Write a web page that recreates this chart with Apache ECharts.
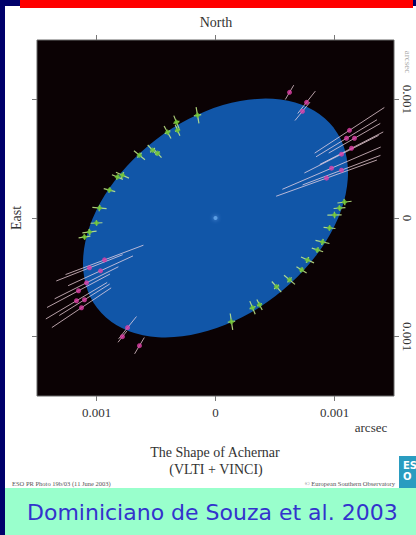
<!DOCTYPE html>
<html>
<head>
<meta charset="utf-8">
<script src="https://cdn.jsdelivr.net/npm/echarts@6/dist/echarts.min.js"></script>
<style>
html,body{margin:0;padding:0;background:#00006b;}
#c{width:416px;height:535px;}
</style>
</head>
<body>
<div id="c"></div>
<script>
// ---- data (milli-arcsec, picture orientation: East to the left, North up) ----
const tickValues = [-1, 0, 1];
const tickLabels = ['0.001', '0', '0.001'];
const ellipseAxes = [1.25, 0.83];      // semi-major, semi-minor (mas)
const ellipseAngle = 37.3;             // degrees, major axis from horizontal
const greenX = [-0.151,-0.328,-0.403,-0.319,-0.529,-0.487,-0.639,-0.782,-0.824,-0.891,-0.975,-1.000,-1.059,-1.101,
                 1.084, 1.042, 1.000, 0.958, 0.899, 0.857, 0.773, 0.723, 0.622, 0.513, 0.370, 0.311, 0.134];
const greenY = [ 0.866, 0.807, 0.723, 0.739, 0.571, 0.546, 0.529, 0.361, 0.345, 0.235, 0.084,-0.042,-0.118,-0.160,
                 0.134, 0.084, 0.025,-0.084,-0.202,-0.269,-0.353,-0.437,-0.521,-0.580,-0.731,-0.756,-0.874];
const greenErr = [0.07,0.06,0.06,0.05,0.06,0.05,0.06,0.06,0.05,0.05,0.06,0.05,0.06,0.05,
                  0.06,0.05,0.06,0.05,0.06,0.05,0.06,0.05,0.06,0.06,0.05,0.06,0.07];
const magX = [0.622, 0.765, 0.731, 1.126, 1.101, 1.168, 1.143, 1.059, 0.975, 1.059, 0.933,
              -0.933,-1.059,-0.966,-1.084,-1.151,-1.168,-1.101,-1.126, -0.739,-0.782,-0.639];
const magY = [1.059, 0.975, 0.899, 0.739, 0.672, 0.672, 0.588, 0.538, 0.420, 0.403, 0.336,
              -0.353,-0.420,-0.445,-0.546,-0.613,-0.697,-0.689,-0.756, -0.924,-1.000,-1.076];
const magErr = [0.07, 0.12, 0.10, 0.35, 0.30, 0.25, 0.30, 0.35, 0.45, 0.35, 0.45,
                0.35, 0.30, 0.30, 0.30, 0.30, 0.30, 0.25, 0.30, 0.12, 0.06, 0.08];

const greenData = greenX.map((x, i) => [x, greenY[i], greenErr[i]]);
const magData = magX.map((x, i) => [x, magY[i], magErr[i]]);

const chart = echarts.init(document.getElementById('c'), null, {renderer: 'svg'});
const serif = 'Liberation Serif';

function errRender(cross, color, width) {
  return function (params, api) {
    const x = api.value(0), y = api.value(1), e = api.value(2);
    const r = Math.hypot(x, y), ux = x / r, uy = y / r;
    const p1 = api.coord([x - ux * e, y - uy * e]);
    const p2 = api.coord([x + ux * e, y + uy * e]);
    const children = [{type: 'line', shape: {x1: p1[0], y1: p1[1], x2: p2[0], y2: p2[1]},
      style: {stroke: color, lineWidth: width}}];
    if (cross) {
      const q1 = api.coord([x - uy * e * 0.45, y + ux * e * 0.45]);
      const q2 = api.coord([x + uy * e * 0.45, y - ux * e * 0.45]);
      children.push({type: 'line', shape: {x1: q1[0], y1: q1[1], x2: q2[0], y2: q2[1]},
        style: {stroke: color, lineWidth: width}});
    }
    return {type: 'group', children};
  };
}

const axisCommon = {
  type: 'value', min: -1.5, max: 1.5,
  axisLine: {show: false, onZero: false},
  splitLine: {show: false},
  axisTick: {show: true, customValues: tickValues, length: 5, lineStyle: {color: '#777'}},
};

chart.setOption({
  backgroundColor: '#00006b',
  animation: false,
  grid: {left: 37, top: 40, width: 357, height: 356, show: true,
         backgroundColor: '#0b0204', borderColor: '#666', borderWidth: 1},
  xAxis: [
    Object.assign({}, axisCommon, {position: 'bottom',
      axisLabel: {customValues: tickValues, margin: 10, color: '#333', fontFamily: serif, fontSize: 13,
        formatter: v => tickLabels[tickValues.indexOf(Math.round(v))]}}),
    Object.assign({}, axisCommon, {position: 'top', axisLabel: {show: false}})
  ],
  yAxis: [
    Object.assign({}, axisCommon, {position: 'left', axisLabel: {show: false}}),
    Object.assign({}, axisCommon, {position: 'right',
      axisLabel: {customValues: tickValues, margin: 7, rotate: -90, color: '#333', fontFamily: serif, fontSize: 13,
        formatter: v => tickLabels[tickValues.indexOf(Math.round(v))]}})
  ],
  graphic: [
    {type: 'rect', z: -100, shape: {x: 5, y: 6, width: 411, height: 482}, style: {fill: '#ffffff'}},
    {type: 'rect', z: -99, shape: {x: 20, y: 0, width: 393, height: 8}, style: {fill: '#ff0000'}},
    {type: 'rect', z: -99, shape: {x: 5, y: 488, width: 411, height: 47}, style: {fill: '#99ffcc'}},
    {type: 'rect', z: -99, shape: {x: 399, y: 456, width: 17, height: 32}, style: {fill: '#2a9cc0'}},
    {type: 'text', z: 10, x: 403, y: 460, style: {text: 'ES\nO', fill: '#ffffff', font: 'bold 10px DejaVu Sans', lineHeight: 11}},
    {type: 'text', x: 216, y: 22, style: {text: 'North', fill: '#333', font: '14px ' + serif, align: 'center', verticalAlign: 'middle'}},
    {type: 'text', x: 16, y: 218, rotation: Math.PI / 2, style: {text: 'East', fill: '#333', font: '14px ' + serif, align: 'center', verticalAlign: 'middle'}},
    {type: 'text', x: 371, y: 427, style: {text: 'arcsec', fill: '#333', font: '13px ' + serif, align: 'center', verticalAlign: 'middle'}},
    {type: 'text', x: 408, y: 62, rotation: -Math.PI / 2, style: {text: 'arcsec', fill: '#aaa', font: '9px ' + serif, align: 'center', verticalAlign: 'middle'}},
    {type: 'text', x: 215, y: 452, style: {text: 'The Shape of Achernar', fill: '#333', font: '14px ' + serif, align: 'center', verticalAlign: 'middle'}},
    {type: 'text', x: 216, y: 469, style: {text: '(VLTI + VINCI)', fill: '#333', font: '14px ' + serif, align: 'center', verticalAlign: 'middle'}},
    {type: 'text', x: 12, y: 483, style: {text: 'ESO PR Photo 19b/03 (11 June 2003)', fill: '#555', font: '6.5px ' + serif, verticalAlign: 'middle'}},
    {type: 'text', x: 395, y: 483, style: {text: '\u00a9 European Southern Observatory', fill: '#555', font: '6.5px ' + serif, align: 'right', verticalAlign: 'middle'}},
    {type: 'text', x: 27, y: 512, style: {text: 'Dominiciano de Souza et al. 2003', fill: '#3333cc', font: '22px DejaVu Sans', verticalAlign: 'middle'}}
  ],
  series: [
    {
      type: 'custom', xAxisIndex: 0, yAxisIndex: 0, z: 1,
      data: [[0, 0]],
      renderItem: function (params, api) {
        const c = api.coord([0, 0]);
        const s = api.size([ellipseAxes[0], ellipseAxes[1]]);
        return {type: 'circle', x: c[0], y: c[1], scaleX: s[0] / s[1],
          rotation: ellipseAngle * Math.PI / 180,
          shape: {cx: 0, cy: 0, r: s[1]}, style: {fill: '#1156a8'}};
      }
    },
    {
      type: 'scatter', z: 2, data: [[0, 0]], symbolSize: 4,
      itemStyle: {color: '#66aaee', shadowBlur: 4, shadowColor: '#88bbff'}
    },
    {type: 'custom', z: 3, data: magData, renderItem: errRender(false, 'rgba(255,225,235,0.7)', 1)},
    {type: 'custom', z: 3, data: greenData, renderItem: errRender(true, 'rgba(200,240,140,0.85)', 1.2)},
    {type: 'scatter', z: 4, data: greenData, symbol: 'diamond', symbolSize: 6, itemStyle: {color: '#6cc22e'}},
    {type: 'scatter', z: 4, data: magData, symbolSize: 5, itemStyle: {color: '#e040a8'}}
  ]
});
</script>
</body>
</html>
